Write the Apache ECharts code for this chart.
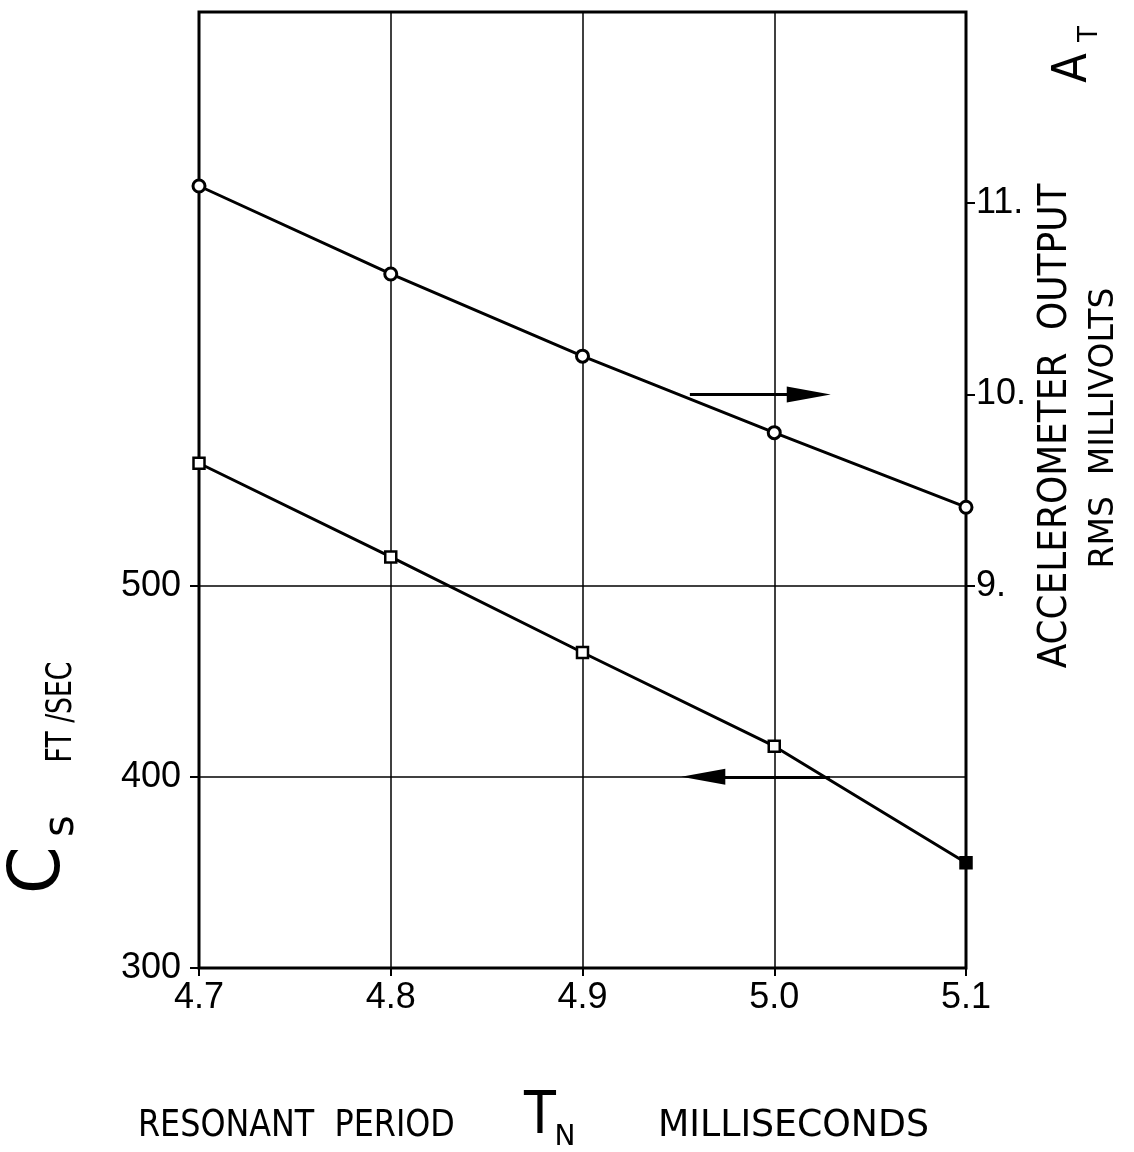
<!DOCTYPE html>
<html>
<head>
<meta charset="utf-8">
<script src="https://cdn.jsdelivr.net/npm/echarts@6/dist/echarts.min.js"></script>
<style>
html,body{margin:0;padding:0;background:#fff;}
#chart{width:1134px;height:1152px;}
</style>
</head>
<body>
<div id="chart"></div>
<script>
// ---- data ----
const periods = [4.7, 4.8, 4.9, 5.0, 5.1];            // T_N, milliseconds
const accelOutput = [11.09, 10.63, 10.20, 9.80, 9.41]; // A_T, RMS millivolts (right axis)
const waveSpeed = [564, 515, 465, 416, 355];           // C_s, ft/sec (left axis)
const xTickLabels = [4.7, 4.8, 4.9, 5.0, 5.1];
const leftTickLabels = [300, 400, 500];
const rightTickLabels = [9, 10, 11];
// arrows: [from x, to x] at a level on the axis they point to
const accelArrowX = [4.956, 5.018];
const accelArrowLevel = 10;
const speedArrowX = [5.029, 4.963];
const speedArrowLevel = 400;

const FONT = 'DejaVu Sans';
const TICKFONT = 'Liberation Sans';
const chart = echarts.init(document.getElementById('chart'), null, {renderer: 'canvas'});

const accelData = periods.map((p, i) => [p, accelOutput[i]]);
const speedData = periods.map((p, i) => {
  const d = {value: [p, waveSpeed[i]]};
  if (i === periods.length - 1) d.itemStyle = {color: '#000'};
  return d;
});

const arrowStyle = {
  silent: true,
  symbol: ['none', 'triangle'],
  symbolSize: [16, 44],
  label: {show: false},
  lineStyle: {color: '#000', width: 3, type: 'solid'},
  emphasis: {disabled: true}
};

function rotText(text, x, y, size, sx) {
  return {type: 'text', x: x, y: y, rotation: Math.PI / 2, scaleX: sx || 1,
    style: {text: text, fontFamily: FONT, fontSize: size, fill: '#000', align: 'center', verticalAlign: 'middle'}};
}
function flatText(text, x, y, size, sx, align) {
  return {type: 'text', x: x, y: y, scaleX: sx || 1,
    style: {text: text, fontFamily: FONT, fontSize: size, fill: '#000', align: align || 'left', verticalAlign: 'middle'}};
}

const option = {
  animation: false,
  backgroundColor: '#fff',
  grid: {left: 199, right: 168, top: 12, bottom: 184, show: true, borderColor: '#000', borderWidth: 3, backgroundColor: 'transparent'},
  xAxis: {
    type: 'value', min: 4.7, max: 5.1, interval: 0.1,
    axisLine: {show: false},
    axisTick: {show: true, length: 8, inside: false, lineStyle: {color: '#000', width: 2}},
    axisLabel: {
      color: '#000', fontFamily: TICKFONT, fontSize: 36, margin: 12,
      customValues: xTickLabels,
      formatter: v => v.toFixed(1)
    },
    splitLine: {show: true, lineStyle: {color: '#000', width: 1.5}}
  },
  yAxis: [
    {
      type: 'value', min: 300, max: 800, interval: 100, position: 'left',
      axisLine: {show: false},
      axisTick: {show: true, length: 9, customValues: leftTickLabels, lineStyle: {color: '#000', width: 2}},
      axisLabel: {
        color: '#000', fontFamily: TICKFONT, fontSize: 36, margin: 18,
        customValues: leftTickLabels,
        formatter: v => (leftTickLabels.indexOf(v) >= 0 ? String(v) : '')
      },
      splitLine: {show: true, lineStyle: {color: '#000', width: 1.5}}
    },
    {
      type: 'value', min: 7, max: 12, interval: 1, position: 'right',
      axisLine: {show: false},
      axisTick: {show: true, length: 9, customValues: rightTickLabels, lineStyle: {color: '#000', width: 2}},
      axisLabel: {
        color: '#000', fontFamily: TICKFONT, fontSize: 36, margin: 10,
        customValues: rightTickLabels,
        formatter: v => (rightTickLabels.indexOf(v) >= 0 ? v + '.' : '')
      },
      splitLine: {show: false}
    }
  ],
  series: [
    {
      name: 'Accelerometer output', type: 'line', yAxisIndex: 1,
      data: accelData,
      symbol: 'circle', symbolSize: 12,
      itemStyle: {color: '#fff', borderColor: '#000', borderWidth: 3},
      lineStyle: {color: '#000', width: 3},
      markLine: Object.assign({}, arrowStyle, {
        data: [[{coord: [accelArrowX[0], accelArrowLevel]}, {coord: [accelArrowX[1], accelArrowLevel]}]]
      }),
      z: 5
    },
    {
      name: 'Cs', type: 'line', yAxisIndex: 0,
      data: speedData,
      symbol: 'rect', symbolSize: 11,
      itemStyle: {color: '#fff', borderColor: '#000', borderWidth: 2.5},
      lineStyle: {color: '#000', width: 3},
      markLine: Object.assign({}, arrowStyle, {
        data: [[{coord: [speedArrowX[0], speedArrowLevel]}, {coord: [speedArrowX[1], speedArrowLevel]}]]
      }),
      z: 5
    }
  ],
  graphic: [
    // right axis titles
    rotText('ACCELEROMETER  OUTPUT', 1056, 426, 39, 0.92),
    rotText('RMS  MILLIVOLTS', 1104, 428, 33, 1),
    rotText('A', 1074, 68, 48, 0.9),
    rotText('T', 1090, 34, 26, 1),
    // left axis title
    rotText('C', 40, 870, 72, 0.95),
    rotText('s', 62, 826, 42, 1),
    rotText('FT /SEC', 62, 712, 36, 0.74),
    // bottom title
    flatText('RESONANT  PERIOD', 138, 1126, 37, 0.86),
    flatText('T', 540, 1118, 58, 0.9, 'center'),
    flatText('N', 565, 1138, 28, 1, 'center'),
    flatText('MILLISECONDS', 658, 1126, 37, 0.98)
  ]
};
chart.setOption(option);
</script>
</body>
</html>
